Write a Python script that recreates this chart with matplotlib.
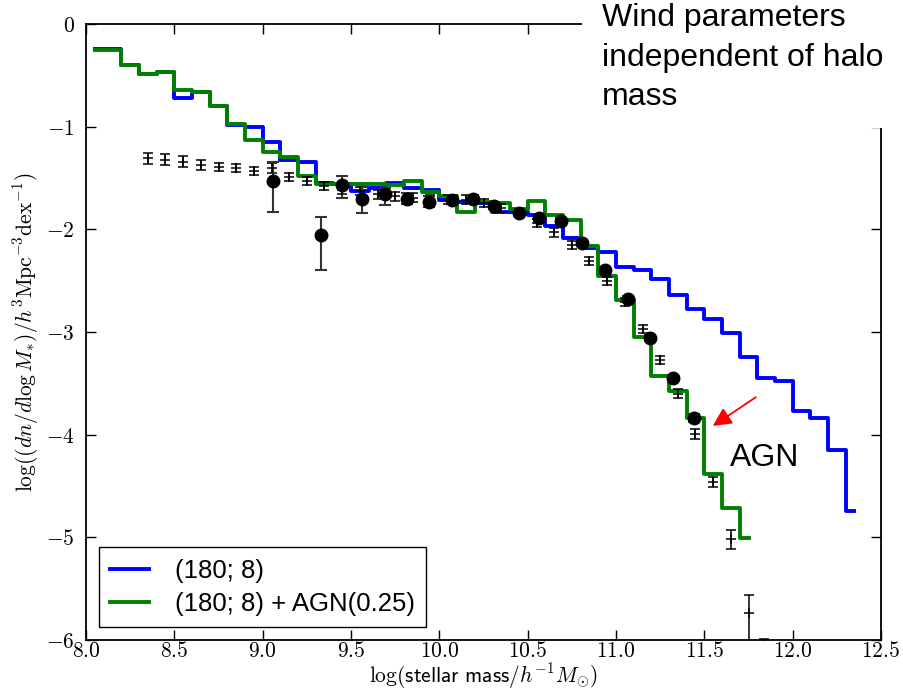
import matplotlib
matplotlib.use('Agg')
import matplotlib.pyplot as plt
from matplotlib.patches import Rectangle
from matplotlib.ticker import FuncFormatter

plt.rcParams['mathtext.fontset'] = 'cm'

# simulated mass functions (bin centres, log dn/dlogM)
bin_centres = [8.05, 8.15, 8.25, 8.35, 8.45, 8.55, 8.65, 8.75, 8.85, 8.95,
               9.05, 9.15, 9.25, 9.35, 9.45, 9.55, 9.65, 9.75, 9.85, 9.95,
               10.05, 10.15, 10.25, 10.35, 10.45, 10.55, 10.65, 10.75, 10.85, 10.95,
               11.05, 11.15, 11.25, 11.35, 11.45, 11.55, 11.65, 11.75, 11.85, 11.95,
               12.05, 12.15, 12.25, 12.35]
wind_only = [-0.24, -0.24, -0.40, -0.49, -0.47, -0.72, -0.66, -0.80, -0.98, -1.00,
             -1.15, -1.32, -1.34, -1.55, -1.56, -1.63, -1.60, -1.55, -1.60, -1.62,
             -1.71, -1.73, -1.74, -1.83, -1.83, -1.86, -1.97, -2.08, -2.18, -2.22,
             -2.37, -2.40, -2.48, -2.64, -2.78, -2.87, -3.01, -3.24, -3.45, -3.48,
             -3.77, -3.84, -4.15, -4.74]
wind_agn = [-0.25, -0.25, -0.40, -0.49, -0.47, -0.64, -0.66, -0.80, -0.97, -1.13,
            -1.25, -1.30, -1.48, -1.56, -1.56, -1.56, -1.56, -1.57, -1.53, -1.64,
            -1.68, -1.83, -1.73, -1.74, -1.80, -1.72, -1.86, -1.91, -2.16, -2.45,
            -2.69, -3.05, -3.43, -3.57, -3.84, -4.38, -4.71, -5.01]

# observed points, large circles
obs_x = [9.06, 9.33, 9.45, 9.56, 9.69, 9.815, 9.94, 10.07, 10.19, 10.31,
         10.45, 10.565, 10.69, 10.81, 10.94, 11.07, 11.195, 11.32, 11.44]
obs_y = [-1.53, -2.06, -1.57, -1.70, -1.66, -1.70, -1.73, -1.71, -1.70, -1.77,
         -1.845, -1.89, -1.92, -2.13, -2.40, -2.675, -3.06, -3.45, -3.835]
obs_lo = [0.30, 0.34, 0.12, 0.14, 0.10, 0.05, 0.05, 0.04, 0.03, 0.03,
          0.03, 0.03, 0.03, 0.03, 0.03, 0.03, 0.03, 0.03, 0.04]
obs_hi = [0.19, 0.18, 0.09, 0.11, 0.06, 0.05, 0.05, 0.04, 0.03, 0.03,
          0.03, 0.03, 0.03, 0.03, 0.03, 0.03, 0.03, 0.03, 0.04]

# second observational set, small crosses
obs2_x = [8.35, 8.45, 8.55, 8.65, 8.75, 8.85, 8.95, 9.05, 9.15, 9.25,
          9.35, 9.45, 9.55, 9.65, 9.75, 9.85, 9.95, 10.05, 10.15, 10.25,
          10.35, 10.45, 10.55, 10.65, 10.75, 10.85, 10.95, 11.05, 11.15, 11.25,
          11.35, 11.45, 11.55, 11.65, 11.75, 11.84]
obs2_y = [-1.31, -1.32, -1.34, -1.37, -1.39, -1.405, -1.43, -1.40, -1.49, -1.53,
          -1.58, -1.62, -1.63, -1.66, -1.68, -1.69, -1.71, -1.71, -1.71, -1.74,
          -1.79, -1.84, -1.94, -2.03, -2.15, -2.31, -2.50, -2.71, -2.97, -3.27,
          -3.60, -3.99, -4.46, -5.02, -5.74, -6.05]
obs2_lo = [0.05, 0.05, 0.05, 0.05, 0.04, 0.04, 0.04, 0.05, 0.04, 0.04,
           0.04, 0.04, 0.04, 0.04, 0.04, 0.04, 0.04, 0.04, 0.04, 0.04,
           0.04, 0.04, 0.04, 0.04, 0.04, 0.04, 0.04, 0.04, 0.04, 0.04,
           0.04, 0.05, 0.05, 0.09, 0.40, 0.06]
obs2_hi = [0.05, 0.05, 0.05, 0.05, 0.04, 0.04, 0.04, 0.05, 0.04, 0.04,
           0.04, 0.04, 0.04, 0.04, 0.04, 0.04, 0.04, 0.04, 0.04, 0.04,
           0.04, 0.04, 0.04, 0.04, 0.04, 0.04, 0.04, 0.04, 0.04, 0.04,
           0.04, 0.05, 0.05, 0.09, 0.18, 0.06]

fig = plt.figure(figsize=(9.04, 6.93), dpi=100)
ax = fig.add_axes([86 / 904, 1 - 640 / 693, 795 / 904, 616 / 693])

ax.plot(bin_centres, wind_only, drawstyle='steps-mid', color='#0000ff', lw=2.8,
        label='(180; 8)')
ax.plot(bin_centres[:len(wind_agn)], wind_agn, drawstyle='steps-mid', color='#008000',
        lw=2.8, label='(180; 8) + AGN(0.25)')

ax.errorbar(obs2_x, obs2_y, yerr=[obs2_lo, obs2_hi], fmt='+', color='k', ms=7, mew=1.1,
            elinewidth=1.1, capsize=3.5, capthick=1.1)
ax.errorbar(obs_x, obs_y, yerr=[obs_lo, obs_hi], fmt='o', color='k', ms=9,
            ecolor='#333333', elinewidth=1.5, capsize=4, capthick=1.5)

ax.set_xlim(8.0, 12.5)
ax.set_ylim(-6, 0)
ax.set_xticks([8.0, 8.5, 9.0, 9.5, 10.0, 10.5, 11.0, 11.5, 12.0, 12.5])
ax.set_yticks([-6, -5, -4, -3, -2, -1, 0])
ax.xaxis.set_major_formatter(FuncFormatter(lambda v, p: r'$%.1f$' % v))
ax.yaxis.set_major_formatter(FuncFormatter(lambda v, p: r'$%d$' % v))
ax.tick_params(direction='in', top=True, right=True, length=7, width=1, labelsize=15.5)
ax.tick_params(axis='x', pad=1)
ax.tick_params(axis='y', pad=8)
for s in ax.spines.values():
    s.set_linewidth(1.3)

ax.set_xlabel(r'$\log(\mathsf{stellar\ mass}/h^{-1}M_{\odot})$', fontsize=15.5, labelpad=0)
ax.set_ylabel(r'$\log((dn/d\log M_{*})/h^{3}\mathrm{Mpc}^{-3}\mathrm{dex}^{-1})$',
              fontsize=15.5, labelpad=4)

leg = ax.legend(loc='lower left', prop={'family': 'Liberation Sans', 'size': 18.5},
                fancybox=False, edgecolor='k', framealpha=1, handlelength=1.5,
                borderpad=0.45, labelspacing=0.35, handletextpad=1.0,
                borderaxespad=0.5)
leg.get_frame().set_linewidth(1.0)

ax.annotate('', xy=(11.535, -3.93), xytext=(11.805, -3.62),
            arrowprops=dict(arrowstyle='-|>', color='#ff0000', lw=1.3, mutation_scale=28))
ax.text(11.645, -4.31, 'AGN', fontsize=23, family='Liberation Sans', va='baseline')

# white panel with slide note covering the corner
fig.add_artist(Rectangle((582 / 904, 1 - 128 / 693), 1, 1, transform=fig.transFigure,
                         facecolor='white', edgecolor='none', zorder=10))
fig.text(602 / 904, 0.995, 'Wind parameters\nindependent of halo\nmass', fontsize=23,
         family='Liberation Sans', va='top', ha='left', linespacing=1.4, zorder=11)

fig.savefig('out.png', dpi=100)
